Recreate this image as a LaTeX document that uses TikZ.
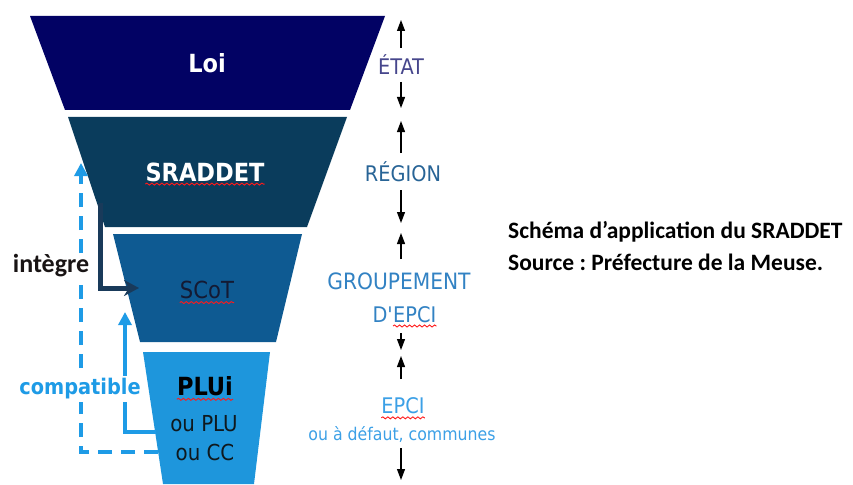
\documentclass[tikz,border=0pt]{standalone}
\usepackage{fontspec}
\setmainfont{Carlito}
\newfontfamily\diag{DejaVu Sans Condensed}
\usetikzlibrary{arrows.meta,decorations.pathmorphing}
\definecolor{cLoi}{RGB}{2,2,100}
\definecolor{cSrad}{RGB}{10,60,92}
\definecolor{cScot}{RGB}{14,90,146}
\definecolor{cPlu}{RGB}{30,150,220}
\definecolor{cLine}{RGB}{30,155,230}
\definecolor{cInt}{RGB}{25,58,90}
\definecolor{cEtat}{RGB}{70,70,140}
\definecolor{cReg}{RGB}{40,100,150}
\definecolor{cGrp}{RGB}{50,130,195}
\definecolor{cEpci}{RGB}{60,160,230}
\definecolor{cScotTxt}{RGB}{20,26,51}
\definecolor{cPluTxt}{RGB}{15,25,30}
\definecolor{cIntTxt}{RGB}{25,20,20}
\tikzset{
  lbl/.style={inner sep=0pt, font=\diag\fontsize{21.5}{24}\selectfont},
  bigl/.style={inner sep=0pt, font=\diag\bfseries\fontsize{25}{28}\selectfont},
  wavy/.style={draw=red!90, line width=0.9pt, decorate, decoration={snake, amplitude=1pt, segment length=5pt}},
  tier/.style={-{Triangle[length=11pt,width=8pt]}, line width=1.2pt, black},
  integre/.style={line width=5pt, cInt, -{Stealth[length=15pt,width=16pt]}},
  compat/.style={line width=3.8pt, cLine, -{Triangle[length=13pt,width=13pt]}},
  compatd/.style={line width=4.3pt, cLine, dash pattern=on 14pt off 9pt, -{Triangle[length=13pt,width=13pt]}},
}
\begin{document}
\frenchspacing
\begin{tikzpicture}[x=1pt,y=-1pt]
\useasboundingbox (0,0) rectangle (853,484);
% trapezoids
\fill[cLoi] (30,16) -- (385,16) -- (350,110) -- (65,110) -- cycle;
\fill[cSrad] (68,117) -- (347,117) -- (307,227) -- (105,227) -- cycle;
\fill[cScot] (113,234) -- (302,234) -- (276,342) -- (140,342) -- cycle;
\fill[cPlu] (143,352) -- (270,352) -- (254,484) -- (163,484) -- cycle;
% texts in funnel
\node[bigl, text=white] (loi) at (207,63) {Loi};
\node[bigl, text=white] (sraddet) at (205,172) {SRADDET};
\node[lbl, font=\diag\fontsize{23.5}{26}\selectfont, text=cScotTxt] (scot) at (207,290) {SCoT};
\node[bigl, text=black] (plui) at (205,386) {PLUi};
\node[lbl, font=\diag\fontsize{22}{24}\selectfont, text=cPluTxt] (plu) at (204,424) {ou PLU};
\node[lbl, font=\diag\fontsize{22}{24}\selectfont, text=cPluTxt] (cc) at (205,452) {ou CC};
\draw[wavy] ([yshift=-3pt]sraddet.base west) -- ([yshift=-3pt]sraddet.base east);
\draw[wavy] ([yshift=-4pt]scot.base west) -- ([yshift=-4pt]scot.base east);
\draw[wavy] ([yshift=-4pt]plui.base west) -- ([yshift=-4pt]plui.base east);
% right scale
\node[lbl, text=cEtat] (etat) at (401,65) {ÉTAT};
\node[lbl, text=cReg] (region) at (403,172) {RÉGION};
\node[lbl, font=\diag\fontsize{22.5}{24}\selectfont, text=cGrp] (grp) at (399,281) {GROUPEMENT};
\node[lbl, text=cGrp, anchor=base east] (dq) at (393,322) {D'};
\node[lbl, text=cGrp, anchor=base west] (depci) at (dq.base east) {EPCI};
\node[lbl, text=cEpci] (epci) at (403,406) {EPCI};
\node[lbl, font=\diag\fontsize{17.5}{20}\selectfont, text=cEpci] (defaut) at (402,435) {ou à défaut, communes};
\draw[wavy] ([yshift=-4pt]depci.base west) -- ([yshift=-4pt]depci.base east);
\draw[wavy] ([yshift=-4pt]epci.base west) -- ([yshift=-4pt]epci.base east);
\coordinate (a1) at (401,48); \coordinate (a1t) at (401,20);
\coordinate (a2) at (401,82); \coordinate (a2t) at (401,108);
\coordinate (b1) at (401,153); \coordinate (b1t) at (401,121);
\coordinate (b2) at (401,190); \coordinate (b2t) at (401,223);
\coordinate (c1) at (401,259); \coordinate (c1t) at (401,233);
\coordinate (c2) at (401,333); \coordinate (c2t) at (401,350);
\coordinate (d1) at (401,379); \coordinate (d1t) at (401,356);
\coordinate (d2) at (401,448); \coordinate (d2t) at (401,480);
\draw[tier] (a1) -- (a1t);
\draw[tier] (a2) -- (a2t);
\draw[tier] (b1) -- (b1t);
\draw[tier] (b2) -- (b2t);
\draw[tier] (c1) -- (c1t);
\draw[tier] (c2) -- (c2t);
\draw[tier] (d1) -- (d1t);
\draw[tier] (d2) -- (d2t);
% left connectors
\coordinate (dS) at (158,452);
\coordinate (dE) at (81,163);
\draw[compatd] (dS) -| (dE);
\coordinate (iS) at (100,203);
\coordinate (iE) at (139,288);
\draw[integre] (iS) |- (iE);
\node[fill=white, inner xsep=0pt, inner ysep=1pt, font=\bfseries\fontsize{26}{28}\selectfont, text=cIntTxt] (integre) at (51,266) {intègre};
\coordinate (sS) at (156,432);
\coordinate (sE) at (125,312);
\draw[compat] (sS) -| (sE);
\node[fill=white, inner xsep=1pt, inner ysep=3pt, font=\diag\bfseries\fontsize{21.5}{23}\selectfont, text=cLine] (compat) at (80,389) {compatible};
% caption
\node[anchor=base west, inner sep=0pt, font=\bfseries\fontsize{23.5}{32}\selectfont, align=left] (cap) at (508,270) {Schéma d’application du SRADDET\\Source : Préfecture de la Meuse.};
\end{tikzpicture}
\end{document}
